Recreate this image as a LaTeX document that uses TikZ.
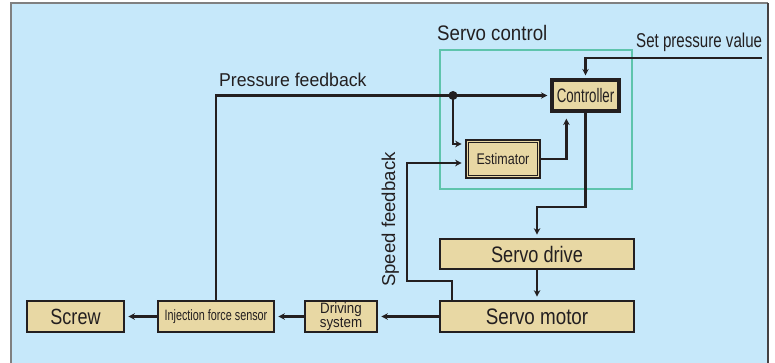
\documentclass[tikz,border=0pt]{standalone}
\usepackage{fontspec}
\setmainfont{Liberation Sans}
\usepackage{graphicx}
\usetikzlibrary{arrows.meta,calc}
\definecolor{panel}{HTML}{C6E8FA}
\definecolor{boxfill}{HTML}{E8D8A4}
\definecolor{tealline}{HTML}{5EC4AC}
\definecolor{ink}{HTML}{231F20}
\newcommand\txt[3]{{\fontsize{#1}{#1}\selectfont\scalebox{#2}[1]{#3}}}
\begin{document}
\begin{tikzpicture}[x=1pt,y=-1pt,
  blk/.style={draw=ink,fill=boxfill,line width=2.6pt,inner sep=0pt,text=ink},
  conn/.style={draw=ink,line width=2.3pt,-{Stealth[length=6.5pt,width=6.5pt]},shorten >=3pt},
  wire/.style={draw=ink,line width=2.3pt},
  lbl/.style={text=ink,inner sep=0pt}]
\useasboundingbox (0,0) rectangle (775,363);
\fill[panel] (11,3) rectangle (768,363);
\draw[gray,line width=1.8pt] (11,363) -- (11,3) -- (768,3);
\draw[ink!85,line width=1.8pt] (768,3) -- (768,363);

% servo control frame
\node[draw=tealline,line width=2.4pt,minimum width=192pt,minimum height=139pt,inner sep=0pt] (sc) at (536,119.5) {};

% blocks
\node[blk,minimum width=97pt,minimum height=31pt] (screw) at (75.5,316.5) {\txt{22}{0.82}{Screw}};
\node[blk,minimum width=116pt,minimum height=31pt] (sensor) at (216,316.5) {\txt{15}{0.72}{Injection force sensor}};
\node[blk,minimum width=72pt,minimum height=31pt,align=center,font=\fontsize{15}{11.7}\selectfont] (driving) at (341,316.5) {\scalebox{0.89}[1]{Driving}\\\scalebox{0.89}[1]{system}};
\node[blk,minimum width=194pt,minimum height=31pt] (motor) at (537,316.5) {\txt{22.4}{0.84}{Servo motor}};
\node[blk,minimum width=194pt,minimum height=30pt] (drive) at (537,254) {\txt{22.4}{0.81}{Servo drive}};
\node[blk,line width=3.2pt,minimum width=67pt,minimum height=31pt] (ctrl) at (585.5,95.5) {\txt{19.5}{0.68}{Controller}};
\node[blk,minimum width=74pt,minimum height=38pt] (est) at (503,159) {\txt{15.4}{0.81}{Estimator}};
\draw[ink,line width=1.6pt] ($(est.south west)+(3.8,-3.8)$) rectangle ($(est.north east)+(-3.8,3.8)$);

% labels
\node[lbl,anchor=base west] (lsc) at (437,40.5) {\txt{21}{0.89}{Servo control}};
\node[lbl,anchor=base west] (lsp) at (636,47.3) {\txt{20}{0.755}{Set pressure value}};
\node[lbl,anchor=base west] (lpf) at (219,86.7) {\txt{18.6}{0.95}{Pressure feedback}};
\node[lbl,anchor=base west,rotate=90] (lsf) at (395,287) {\txt{18.6}{1}{Speed feedback}};

% connectors
\coordinate (dot) at (453,95.5);
\coordinate (sp) at (762,58);
\coordinate (k1) at (537,207);
\coordinate (k2) at (407,281);
\draw[wire] (sensor.north) |- (dot);
\draw[conn] (dot) -- (ctrl.west);
\draw[conn] (dot) |- ($(est.west)+(0,-15)$);
\draw[conn,shorten >=6pt] (est.east) -| ($(ctrl.south west)+(16,0)$);
\draw[conn] (sp) -| (ctrl.north);
\draw[conn] (ctrl.south) |- (k1) -- (drive.north);
\draw[conn] ($(motor.north west)+(13,0)$) |- (k2) |- ($(est.west)+(0,4)$);
\draw[conn] (drive.south) -- (motor.north);
\draw[conn] (motor.west) -- (driving.east);
\draw[conn] (driving.west) -- (sensor.east);
\draw[conn] (sensor.west) -- (screw.east);
\fill[ink] (dot) circle (4.5pt);
\end{tikzpicture}
\end{document}
